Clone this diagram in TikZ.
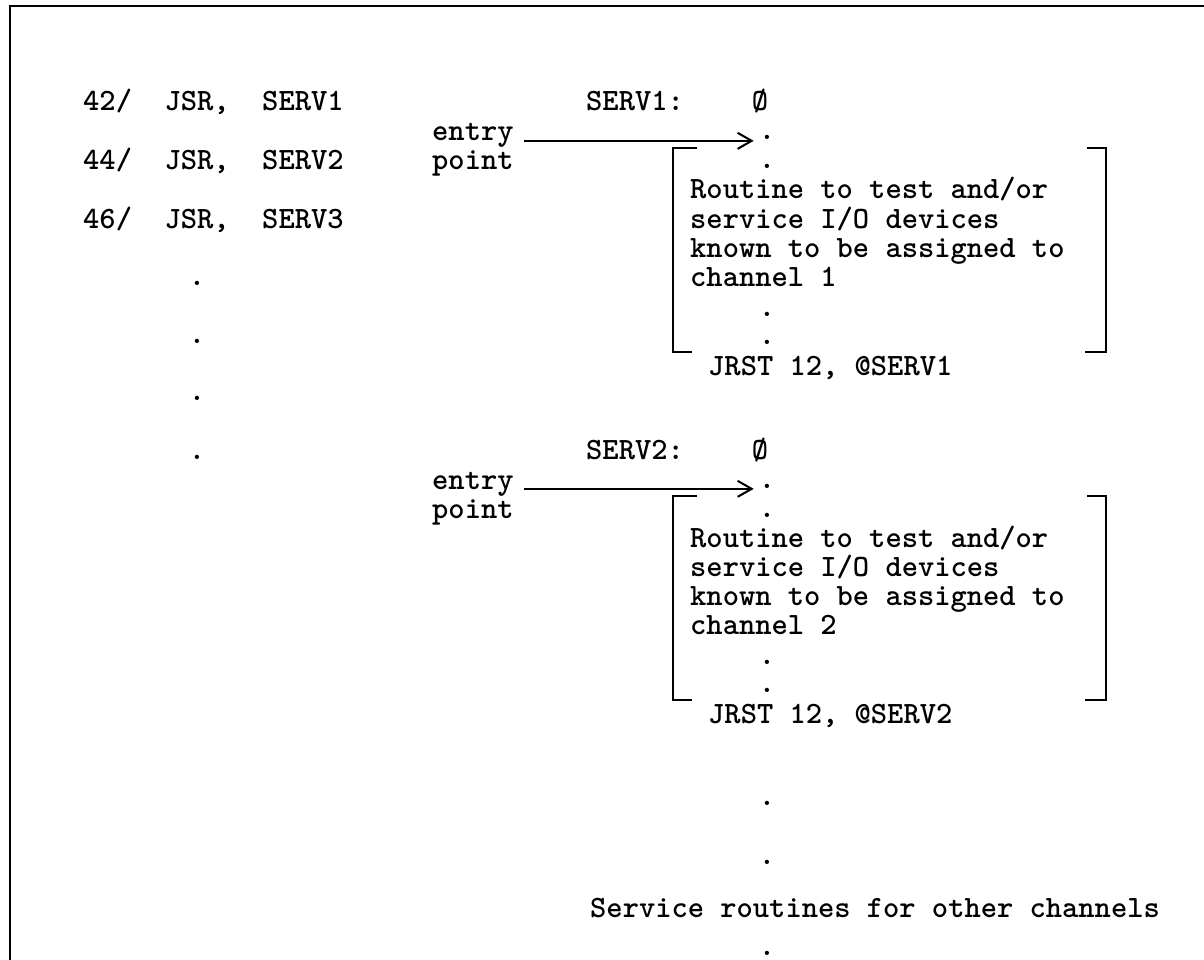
\documentclass[tikz,border=0pt]{standalone}
\usepackage{fontspec}
\usetikzlibrary{arrows.meta}

\begin{document}
\begin{tikzpicture}[
    x=1pt, y=-1pt,
    code/.style={
        font=\ttfamily\bfseries\fontsize{31}{31}\selectfont,
        inner sep=0pt, anchor=base west
    },
    dotmark/.style={
        font=\ttfamily\bfseries\fontsize{31}{31}\selectfont,
        inner sep=0pt, anchor=base
    },
    frame/.style={line width=2.4pt},
    brk/.style={line width=1.8pt},
    arr/.style={-{Straight Barb[length=14pt, width=16pt]}, line width=2pt, shorten >=5pt}
]
\useasboundingbox (0,0) rectangle (1204,960);
\draw[frame] (10,960) -- (10,6) -- (1204,6);
% jump table
\node[code] (jsr1) at (83,111) {42/\ \ JSR,\ \ SERV1};
\node[code] (jsr2) at (83,170) {44/\ \ JSR,\ \ SERV2};
\node[code] (jsr3) at (83,228) {46/\ \ JSR,\ \ SERV3};
\node[dotmark] (ldot1) at (197,285) {.};
\node[dotmark] (ldot2) at (197,343) {.};
\node[dotmark] (ldot3) at (197,400) {.};
\node[dotmark] (ldot4) at (197,459) {.};
% first service routine
\node[code] (servA) at (586,111) {SERV1:};
\node[dotmark] (zeroA) at (760,111) {Ø};
\node[code] (entryA) at (432,141) {entry};
\node[code] (pointA) at (432,170) {point};
\node[dotmark] (inA) at (767,140) {.};
\node[dotmark] (inA2) at (767,169) {.};
\node[code] (txtA1) at (690,199) {Routine to test and/or};
\node[code] (txtA2) at (690,228) {service I/O devices};
\node[code] (txtA3) at (690,257) {known to be assigned to};
\node[code] (txtA4) at (690,286) {channel 1};
\node[dotmark] (outA1) at (767,316) {.};
\node[dotmark] (outA2) at (767,344) {.};
\node[code] (jrstA) at (708,375) {JRST 12, @SERV1};
\draw[brk] (697,148) -- (673,148) -- (673,352) -- (692,352);
\draw[brk] (1087,148) -- (1106,148) -- (1106,352) -- (1085,352);
\draw[arr] (entryA.east) ++(10pt,-5pt) coordinate (startA) -- (startA -| inA.west);
% second service routine
\node[code] (servB) at (586,459) {SERV2:};
\node[dotmark] (zeroB) at (760,459) {Ø};
\node[code] (entryB) at (432,489) {entry};
\node[code] (pointB) at (432,518) {point};
\node[dotmark] (inB) at (767,488) {.};
\node[dotmark] (inB2) at (767,517) {.};
\node[code] (txtB1) at (690,547) {Routine to test and/or};
\node[code] (txtB2) at (690,576) {service I/O devices};
\node[code] (txtB3) at (690,605) {known to be assigned to};
\node[code] (txtB4) at (690,634) {channel 2};
\node[dotmark] (outB1) at (767,664) {.};
\node[dotmark] (outB2) at (767,692) {.};
\node[code] (jrstB) at (708,723) {JRST 12, @SERV2};
\draw[brk] (697,496) -- (673,496) -- (673,700) -- (692,700);
\draw[brk] (1087,496) -- (1106,496) -- (1106,700) -- (1085,700);
\draw[arr] (entryB.east) ++(10pt,-5pt) coordinate (startB) -- (startB -| inB.west);
% other channels
\node[dotmark] (more1) at (767,805) {.};
\node[dotmark] (more2) at (767,864) {.};
\node[code] (others) at (590,917) {Service routines for other channels};
\node[dotmark] (more3) at (767,955) {.};
\end{tikzpicture}
\end{document}
